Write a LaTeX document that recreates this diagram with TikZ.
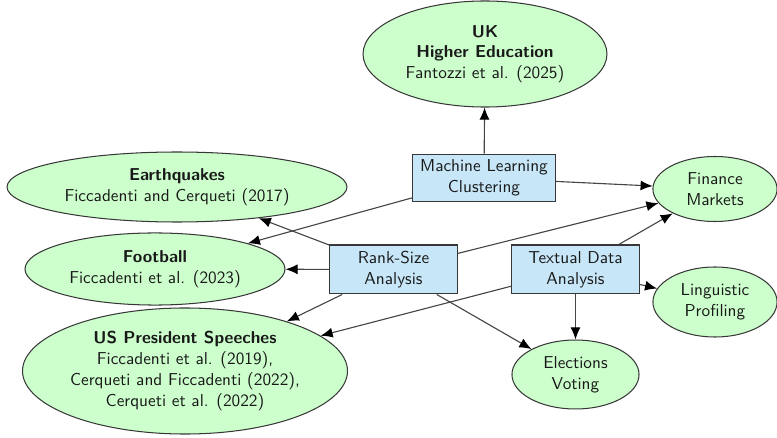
\documentclass[tikz,border=0pt]{standalone}
\usetikzlibrary{shapes.geometric,arrows.meta}
\definecolor{topicgreen}{RGB}{204,255,204}
\definecolor{methodblue}{RGB}{199,231,248}
\definecolor{edgegray}{RGB}{70,70,70}
\definecolor{bordergray}{RGB}{55,55,55}
\definecolor{textgray}{RGB}{25,25,25}
\begin{document}
\begin{tikzpicture}[x=0.58pt, y=-0.58pt,
  every node/.style={font=\sffamily, text=textgray, align=center, inner sep=0pt},
  topic/.style={ellipse, draw=bordergray, line width=0.6pt, fill=topicgreen},
  method/.style={rectangle, draw=bordergray, line width=0.6pt, fill=methodblue},
  link/.style={draw=edgegray, line width=0.65pt, -{Latex[length=7pt,width=5.8pt,color=black]}}]
\useasboundingbox (0,0) rectangle (777,438);

% research methods
\node[method, minimum width=82.4pt, minimum height=27.8pt] (ml) at (484,178) {Machine Learning\\Clustering};
\node[method, minimum width=73.7pt, minimum height=28.4pt] (rs) at (393.5,269.5) {Rank-Size\\Analysis};
\node[method, minimum width=73.7pt, minimum height=28.4pt] (td) at (575.5,269.5) {Textual Data\\Analysis};

% application domains
\node[topic, minimum width=141.5pt, minimum height=61.5pt] (uk) at (485,54) {\textbf{UK}\\\textbf{Higher Education}\\Fantozzi et al. (2025)};
\node[topic, minimum width=197.2pt, minimum height=40.6pt] (eq) at (177,187) {\textbf{Earthquakes}\\Ficcadenti and Cerqueti (2017)};
\node[topic, minimum width=150.8pt, minimum height=41.8pt] (fb) at (155,269) {\textbf{Football}\\Ficcadenti et al. (2023)};
\node[topic, minimum width=184.4pt, minimum height=73.1pt] (us) at (185,371) {\textbf{US President Speeches}\\Ficcadenti et al. (2019),\\Cerqueti and Ficcadenti (2022),\\Cerqueti et al. (2022)};
\node[topic, minimum width=72pt, minimum height=37.7pt] (fin) at (715,189) {Finance\\Markets};
\node[topic, minimum width=72pt, minimum height=40.6pt] (ling) at (715,302) {Linguistic\\Profiling};
\node[topic, minimum width=73.7pt, minimum height=40pt] (el) at (575.5,374.5) {Elections\\Voting};

% connections
\draw[link] (ml) -- (uk);
\draw[link] (ml) -- (fin);
\draw[link] (ml) -- (fb);
\draw[link] (rs) -- (eq);
\draw[link] (rs) -- (fb);
\draw[link] (rs) -- (fin);
\draw[link] (rs) -- (us);
\draw[link] (rs) -- (el);
\draw[link] (td) -- (fin);
\draw[link] (td) -- (ling);
\draw[link] (td) -- (el);
\draw[link] (td) -- (us);
\end{tikzpicture}
\end{document}
